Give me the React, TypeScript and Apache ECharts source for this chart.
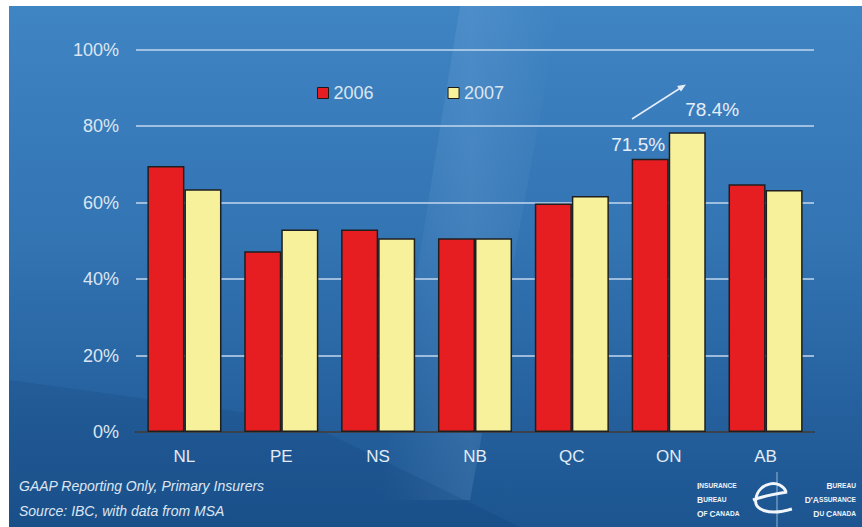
import React, { useEffect, useRef } from "react";
import * as echarts from "echarts";

const categories = ["NL", "PE", "NS", "NB", "QC", "ON", "AB"];
const values2006 = [69.6, 47.3, 53.0, 50.7, 59.8, 71.5, 64.8];
const values2007 = [63.5, 53.0, 50.7, 50.7, 61.7, 78.4, 63.3];
const seriesNames = ["2006", "2007"];
const highlightCategory = "ON";
const footnotes = ["GAAP Reporting Only, Primary Insurers", "Source: IBC, with data from MSA"];
const logoLeft = ["INSURANCE", "BUREAU", "OF CANADA"];
const logoRight = ["BUREAU", "D'ASSURANCE", "DU CANADA"];

const FONT = "'Liberation Sans', Arial, Helvetica, sans-serif";
const TXT = "#dce6f2";

echarts.graphic.registerShape(
  "ibcSwoosh",
  echarts.graphic.extendPath("M 36 13 C 31 0, 7 2, 4 20 C 2 31, 18 37, 42 30 M 1 21 C 12 17, 24 15, 37 13", {})
);

function smallCaps(word: string) {
  return word
    .split(" ")
    .map((w) => {
      const m = w.match(/^([A-Z](?:'[A-Z])?)(.*)$/);
      if (!m) return w;
      return "{a|" + m[1] + "}{b|" + m[2] + "}";
    })
    .join("{b| }");
}

export default function App() {
  const ref = useRef<HTMLDivElement>(null);
  useEffect(() => {
    if (!ref.current) return;
    const chart = echarts.init(ref.current, undefined, { renderer: "svg" });
    const makeData = (vals: number[], isFirst: boolean) =>
      vals.map((v, i) =>
        categories[i] === highlightCategory
          ? {
              value: v,
              label: {
                show: true,
                position: "top",
                formatter: (p: any) => p.value.toFixed(1) + "%",
                color: "#e6eef8",
                fontSize: 19,
                fontFamily: FONT,
                offset: isFirst ? [-12, 0] : [25, -8],
              },
            }
          : v
      );
    const rich = {
      a: { fontSize: 8.5, fontWeight: "bold", color: "#eef3f9", fontFamily: FONT },
      b: { fontSize: 6.6, fontWeight: "bold", color: "#eef3f9", fontFamily: FONT },
    };
    const logoLines: any[] = [];
    const ys = [486, 500, 514];
    logoLeft.forEach((t, i) =>
      logoLines.push({
        type: "text",
        left: 697,
        top: ys[i] - 5,
        style: { text: smallCaps(t), rich, fill: "#eef3f9" },
      })
    );
    logoRight.forEach((t, i) =>
      logoLines.push({
        type: "text",
        right: 6,
        top: ys[i] - 5,
        style: { text: smallCaps(t), rich, fill: "#eef3f9", align: "right" },
      })
    );
    chart.setOption({
      animation: false,
      backgroundColor: "#ffffff",
      grid: { left: 136, right: 48, top: 49.7, bottom: 95, containLabel: false },
      legend: {
        data: seriesNames,
        left: 312,
        top: 79,
        itemWidth: 11,
        itemHeight: 11,
        itemGap: 74,
        icon: "rect",
        itemStyle: { borderColor: "#1a1a1a", borderWidth: 1 },
        textStyle: { color: TXT, fontSize: 18, fontFamily: FONT },
      },
      xAxis: {
        type: "category",
        data: categories,
        axisTick: { show: false },
        axisLine: { lineStyle: { color: "#1b1b1b", width: 1.5 } },
        axisLabel: { color: "#e3ebf5", fontSize: 17, fontFamily: FONT, margin: 16 },
      },
      yAxis: {
        type: "value",
        min: 0,
        max: 100,
        interval: 20,
        axisLine: { show: false },
        axisTick: { show: false },
        axisLabel: { formatter: "{value}%", color: TXT, fontSize: 18, fontFamily: FONT, margin: 17 },
        splitLine: { lineStyle: { color: "#c3d7ee", width: 1.5 } },
      },
      series: [
        {
          name: seriesNames[0],
          type: "bar",
          data: makeData(values2006, true),
          barGap: "0%",
          barCategoryGap: "23.5%",
          itemStyle: { color: "#e61e22", borderColor: "#1f1f1f", borderWidth: 1.5 },
        },
        {
          name: seriesNames[1],
          type: "bar",
          data: makeData(values2007, false),
          itemStyle: { color: "#f7f19b", borderColor: "#1f1f1f", borderWidth: 1.5 },
        },
      ],
      graphic: [
        {
          type: "rect",
          z: -100,
          silent: true,
          shape: { x: 9, y: 6, width: 853, height: 521 },
          style: {
            fill: new echarts.graphic.LinearGradient(0, 0, 0, 1, [
              { offset: 0, color: "#3f84c3" },
              { offset: 0.45, color: "#3374b3" },
              { offset: 0.8, color: "#245f9c" },
              { offset: 1, color: "#1c5590" },
            ]),
          },
        },
        {
          type: "polygon",
          z: -99,
          silent: true,
          shape: { points: [[460, 6], [560, 6], [470, 500], [380, 500]] },
          style: {
            fill: new echarts.graphic.LinearGradient(0, 0, 1, 0, [
              { offset: 0, color: "rgba(170,210,245,0)" },
              { offset: 0.5, color: "rgba(170,210,245,0.13)" },
              { offset: 1, color: "rgba(170,210,245,0)" },
            ]),
          },
        },
        {
          type: "polygon",
          z: -99,
          silent: true,
          shape: { points: [[9, 380], [300, 420], [520, 527], [9, 527]] },
          style: { fill: "rgba(10,40,90,0.12)" },
        },
        {
          type: "line",
          shape: { x1: 632, y1: 119, x2: 682, y2: 87 },
          style: { stroke: "#e6eef8", lineWidth: 1.5 },
        },
        {
          type: "polygon",
          shape: { points: [[686, 84.5], [677, 86], [681, 91.5]] },
          style: { fill: "#e6eef8" },
        },
        ...footnotes.map((t, i) => ({
          type: "text",
          left: 19,
          top: 479 + i * 25,
          style: { text: t, fill: TXT, font: "italic 14px " + FONT },
        })),
        ...logoLines,
        {
          type: "line",
          shape: { x1: 777, y1: 472, x2: 777, y2: 527 },
          style: { stroke: "rgba(235,242,250,0.6)", lineWidth: 1 },
        },
        {
          type: "ibcSwoosh",
          x: 752,
          y: 479,
          scaleX: 0.95,
          scaleY: 1,
          style: { fill: "none", stroke: "#f2f6fb", lineWidth: 3 },
        },
      ],
    });
    return () => chart.dispose();
  }, []);
  return (
    <div
      ref={ref}
      style={{ position: "fixed", left: 0, top: 0, width: 862, height: 527 }}
    />
  );
}
